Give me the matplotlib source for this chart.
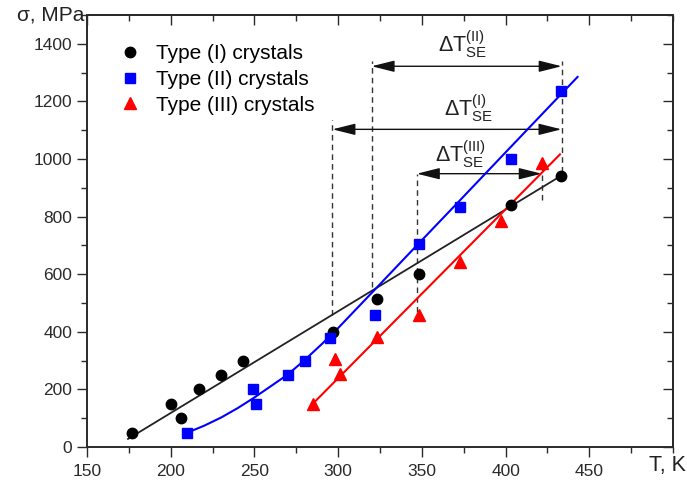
import numpy as np
import matplotlib
matplotlib.use('Agg')
import matplotlib.pyplot as plt
from matplotlib.ticker import MultipleLocator

plt.rcParams['font.family'] = ['Liberation Sans', 'DejaVu Sans']
plt.rcParams['mathtext.fontset'] = 'custom'
plt.rcParams['mathtext.rm'] = 'Liberation Sans'
plt.rcParams['mathtext.it'] = 'Liberation Sans'

# Type (I) crystals
t1 = [177, 200, 206, 217, 230, 243, 297, 323, 348, 403, 433]
s1 = [50, 150, 100, 200, 250, 300, 400, 513, 600, 840, 940]
# Type (II) crystals
t2 = [210, 249, 251, 270, 280, 295, 322, 348, 373, 403, 433]
s2 = [50, 200, 150, 250, 300, 377, 460, 705, 835, 1000, 1237]
# Type (III) crystals
t3 = [285, 298, 301, 323, 348, 373, 397, 422]
s3 = [150, 305, 255, 382, 457, 643, 785, 985]

# fitted curves
fit1_t = [174.5, 433.5]
fit1_s = [28, 943]
fit2_t = [210, 220, 230, 240, 250, 260, 270, 280, 290, 300, 322, 347, 373, 400, 443]
fit2_s = [50, 74, 102, 135, 172, 212, 252, 302, 356, 413, 547, 700, 858, 1023, 1285]
fit3_t = [284.5, 432.5]
fit3_s = [148, 1016]

# superelasticity windows
dT_left = [320, 296.6, 347]
dT_right = [433.5, 433.4, 421.6]
dT_level = [1322, 1103, 949]
dT_names = ['II', 'I', 'III']
dT_text_x = [374.5, 377.8, 373]
dT_text_y = [1371, 1151, 989]

# dashed guides: T, bottom, top
guide_t = [296.6, 320, 433.5, 347, 421.6]
guide_lo = [459, 555, 955, 469, 857]
guide_hi = [1134, 1342, 1342, 949, 972]

fig = plt.figure(figsize=(6.87, 4.8), dpi=100)
ax = fig.add_axes([87/687, 33/480, 586/687, 432/480])

gc = '#2a2a2a'
for x, lo, hi in zip(guide_t, guide_lo, guide_hi):
    ax.plot([x, x], [lo, hi], ls=(0, (4, 3)), color='#333333', lw=1.0, zorder=1)

for l, r, y in zip(dT_left, dT_right, dT_level):
    ax.annotate('', xy=(r, y), xytext=(l, y),
                arrowprops=dict(arrowstyle='<|-|>,head_length=1.0,head_width=0.25',
                                color='#111111', lw=1.0, shrinkA=0, shrinkB=0,
                                mutation_scale=14), zorder=2)

for name, x, y in zip(dT_names, dT_text_x, dT_text_y):
    ax.text(x, y, r'$\mathrm{\Delta T}_{\mathrm{SE}}^{\mathrm{(' + name + ')}}$',
            fontsize=15.5, ha='center', va='baseline', color='#222222')

ax.plot(fit1_t, fit1_s, color='#222222', lw=1.3, zorder=3)
ax.plot(fit2_t, fit2_s, color='#0000ff', lw=1.5, zorder=3)
ax.plot(fit3_t, fit3_s, color='#ff0000', lw=1.5, zorder=3)

ax.plot(t1, s1, 'o', color='black', ms=7.5, ls='none', zorder=4, label='Type (I) crystals')
ax.plot(t2, s2, 's', color='#0000ff', ms=6.5, ls='none', zorder=4, label='Type (II) crystals')
ax.plot(t3, s3, '^', color='#ff0000', ms=8, ls='none', zorder=4, label='Type (III) crystals')

xt = [150, 200, 250, 300, 350, 400, 450]
yt = [0, 200, 400, 600, 800, 1000, 1200, 1400]
ax.set_xlim(150, 500)
ax.set_ylim(0, 1500)
ax.set_xticks(xt)
ax.set_yticks(yt)
ax.xaxis.set_minor_locator(MultipleLocator(25))
ax.yaxis.set_minor_locator(MultipleLocator(100))
ax.tick_params(which='both', direction='out', labelsize=12.5, colors=gc, width=1.0)
ax.tick_params(which='major', length=7)
ax.tick_params(which='minor', length=4)
ax.tick_params(axis='x', which='major', pad=5)
# inner ticks on top and right
sec_x = ax.secondary_xaxis('top')
sec_x.set_xticks(xt)
sec_x.xaxis.set_minor_locator(MultipleLocator(25))
sec_x.tick_params(which='both', direction='in', labeltop=False, colors=gc, width=1.0)
sec_x.tick_params(which='major', length=7)
sec_x.tick_params(which='minor', length=4)
sec_y = ax.secondary_yaxis('right')
sec_y.set_yticks(yt)
sec_y.yaxis.set_minor_locator(MultipleLocator(100))
sec_y.tick_params(which='both', direction='in', labelright=False, colors=gc, width=1.0)
sec_y.tick_params(which='major', length=7)
sec_y.tick_params(which='minor', length=4)
for sp in list(ax.spines.values()) + [sec_x.spines['top'], sec_y.spines['right']]:
    sp.set_color(gc)
    sp.set_linewidth(1.4)

fig.text(84/687, 1 - 15/480, 'σ, MPa', ha='right', va='center',
         fontsize=15, color='#222222')
fig.text(686/687, 1 - 466/480, 'T, K', ha='right', va='center',
         fontsize=15.5, color='#222222')

ax.legend(loc='upper left', bbox_to_anchor=(0.057, 0.933), frameon=False,
          fontsize=15, handlelength=0.95, handletextpad=0.75, labelspacing=0.33,
          borderpad=0, borderaxespad=0, numpoints=1)

fig.savefig('out.png', dpi=100, facecolor='white')
